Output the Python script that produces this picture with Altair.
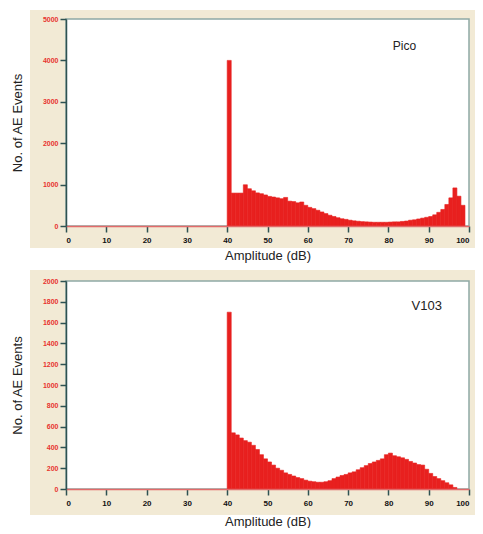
import altair as alt
import pandas as pd

# ---- data ----
pico_db = list(range(40, 99))
pico_counts = [4000, 795, 795, 795, 996, 900, 850, 800, 780, 750,
               715, 700, 680, 660, 690, 600, 590, 560, 580, 500,
               450, 420, 380, 340, 300, 260, 230, 200, 175, 160,
               140, 125, 115, 105, 100, 95, 90, 90, 90, 90,
               95, 100, 100, 110, 120, 140, 150, 170, 190, 210,
               230, 270, 330, 400, 520, 680, 920, 720, 500]

v103_db = list(range(40, 97))
v103_counts = [1700, 540, 520, 490, 465, 450, 420, 380, 330, 290,
               260, 230, 200, 180, 155, 140, 125, 110, 100, 85,
               75, 70, 65, 65, 70, 80, 100, 115, 130, 140,
               155, 165, 185, 205, 225, 245, 260, 275, 290, 330,
               345, 320, 310, 300, 285, 265, 250, 235, 230, 190,
               150, 120, 100, 80, 60, 40, 15]

x_ticks = list(range(0, 101, 10))
pico_y_ticks = list(range(0, 5001, 1000))
v103_y_ticks = list(range(0, 2001, 200))

panel_labels = ["Pico", "V103"]
label_pos_x = [84, 89.5]
label_pos_y = [4350, 1756]

RED = "#e8201f"
TEAL = "#2e5252"
BEIGE = "#f2ead5"
W = 403


def panel(db, counts, ymax, yticks, label, lx, ly, h, by1, by2, toff, lsize):
    df = pd.DataFrame({"db": db, "count": counts})
    one = pd.DataFrame({"k": [0]})
    beige = alt.Chart(one).mark_rect(color=BEIGE).encode(
        x=alt.value(-36), x2=alt.value(W + 6),
        y=alt.value(by1), y2=alt.value(h + by2))
    white = alt.Chart(one).mark_rect(fill="white", stroke="#8fa9a5", strokeWidth=1.5).encode(
        x=alt.value(0), x2=alt.value(W), y=alt.value(0), y2=alt.value(h))
    xaxis = alt.Axis(values=x_ticks, tickCount=len(x_ticks), grid=False,
                     tickColor=TEAL, tickSize=6, tickWidth=1.5,
                     domainColor="#e26a6a", domainWidth=1.5,
                     labelColor="#111", labelFontSize=8, labelFontWeight="bold",
                     labelFont="Liberation Sans", labelPadding=4,
                     title="Amplitude (dB)", titleFont="Liberation Sans", titleFontSize=13,
                     titleFontWeight="normal", titleColor="#222",
                     titleY=toff, titleBaseline="middle", zindex=1)
    yaxis = alt.Axis(values=yticks, tickCount=len(yticks), grid=False, format="d",
                     tickColor=TEAL, tickSize=6, tickWidth=1.5,
                     domainColor=TEAL, domainWidth=1.5, labelOverlap=False,
                     labelColor="#e8332f", labelFontSize=7, labelFontWeight="bold",
                     labelFont="Liberation Sans", labelPadding=2,
                     title="No. of AE Events", titleFont="Liberation Sans", titleFontSize=13,
                     titleFontWeight="normal", titleColor="#222",
                     titleX=-49, titleY=h / 2, titleAngle=270, titleAlign="center",
                     titleBaseline="middle", zindex=1)
    bars = alt.Chart(df).transform_calculate(hi="datum.db + 1").mark_rect(
        color=RED, stroke=RED, strokeWidth=0.6).encode(
        x=alt.X("db:Q", scale=alt.Scale(domain=[0, 100]), axis=xaxis),
        x2="hi:Q",
        y=alt.Y("count:Q", scale=alt.Scale(domain=[0, ymax]), axis=yaxis),
        y2=alt.datum(0),
    )
    txt = alt.Chart(pd.DataFrame({"x": [lx], "y": [ly], "t": [label]})).mark_text(
        font="Liberation Sans", fontSize=lsize, color="#222").encode(
        x="x:Q", y="y:Q", text="t:N")
    return alt.layer(beige, white, bars, txt).properties(width=W, height=h)


top = panel(pico_db, pico_counts, 5000, pico_y_ticks, panel_labels[0],
            label_pos_x[0], label_pos_y[0], 207, -9, 22, 29, 12)
bottom = panel(v103_db, v103_counts, 2000, v103_y_ticks, panel_labels[1],
               label_pos_x[1], label_pos_y[1], 208, -11, 26, 32, 13)

chart = alt.vconcat(top, bottom, spacing=8).configure_view(stroke=None).properties(
    padding={"left": 3, "top": 2, "right": 0, "bottom": 0})

chart.save("out.html", embed_options={"renderer": "svg", "actions": False})
